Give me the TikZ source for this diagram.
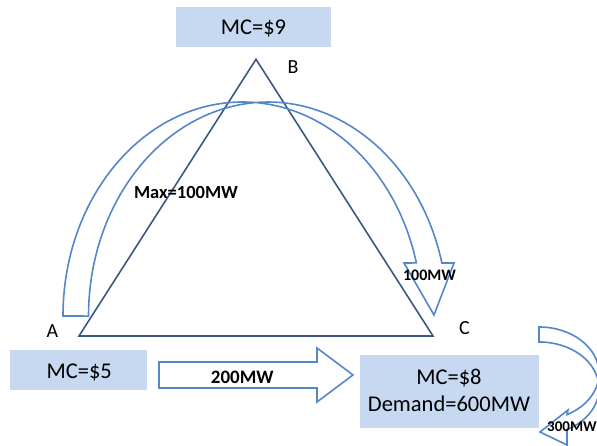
\documentclass[tikz,border=0pt]{standalone}
\usepackage{fontspec}
\setmainfont{Carlito}
\definecolor{boxblue}{RGB}{198,217,240}
\definecolor{flowblue}{RGB}{84,134,202}
\definecolor{edgeblue}{RGB}{60,88,128}
\begin{document}
\begin{tikzpicture}[x=1pt,y=1pt,
  box/.style={fill=boxblue, draw=none, inner sep=0pt},
  boxtext/.style={font=\fontsize{22.5}{26}\selectfont, inner sep=0pt, anchor=base},
  corner/.style={font=\fontsize{20}{24}\selectfont, inner sep=0pt, anchor=base},
  flow/.style={draw=flowblue, line width=1.6pt, line join=miter},
  flowtext/.style={font=\bfseries\fontsize{#1}{#1}\selectfont, inner sep=0pt, anchor=base},
  line/.style={draw=edgeblue, line width=1.6pt, line join=miter}]

\useasboundingbox (0,0) rectangle (597,446);
\clip (0,0) rectangle (597,446);

% price boxes
\node[box, minimum width=155pt, minimum height=40pt] (boxB) at (253.5,418.7) {};
\node[box, minimum width=137.3pt, minimum height=40pt] (boxA) at (78.65,76) {};
\node[box, minimum width=179pt, minimum height=72.7pt] (boxC) at (449,54.65) {};

\node[boxtext] (mcB) at (253.5,411) {MC=\$9};
\node[boxtext] (mcA) at (79.2,67.7) {MC=\$5};
\node[boxtext] (mcC) at (449,61) {MC=\$8};
\node[boxtext] (demC) at (449,34.3) {Demand=600MW};

% network triangle
\coordinate (A) at (79,110);
\coordinate (B) at (256,386.7);
\coordinate (C) at (433,110);
\draw[line] (A) -- (B) -- (C) -- cycle;

\node[corner] (labA) at (52.5,108) {A};
\node[corner] (labB) at (293,372.7) {B};
\node[corner] (labC) at (464.5,111) {C};

% curved flow A -> B -> C
\draw[flow] (63,130)
  arc[start angle=180, end angle=14.36, x radius=179.5, y radius=214]
  -- (404,183) -- (434,131) -- (454,183) -- (441.9,183)
  arc[start angle=14.36, end angle=180, x radius=179.5, y radius=214]
  -- cycle;

% straight flow A -> C
\draw[flow] (159,58) -- (317,58) -- (317,44) -- (353,71) -- (317,98)
  -- (317,84) -- (159,84) -- cycle;

% curved flow leaving C
\draw[flow] (539,119)
  arc[start angle=90, end angle=-62.2, x radius=60, y radius=46.5]
  -- (568,36) -- (540,14) -- (567,1) -- (567,16.4)
  arc[start angle=-62.2, end angle=90, x radius=60, y radius=46.5]
  -- cycle;

% flow labels
\node[flowtext=18.5] (maxAB) at (186,247) {Max=100MW};
\node[flowtext=16] (fBC) at (429.5,165) {100MW};
\node[flowtext=19] (fAC) at (242.3,62.7) {200MW};
\node[flowtext=15, anchor=base west] (fC) at (547,14.3) {300MW};
\end{tikzpicture}
\end{document}
